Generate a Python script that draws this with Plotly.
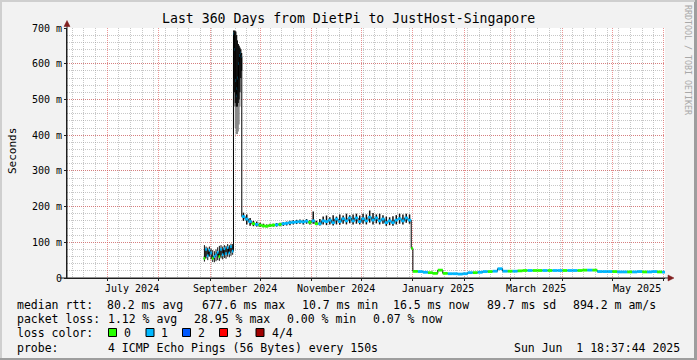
import pandas as pd
import plotly.graph_objects as go

# ---------------- data ----------------
END_TIME = "2025-06-01 18:37:44"
START_TIME = "2024-06-06 18:37:44"

# Segment A: late Aug - mid Sep 2024, daily samples (ms)
a_start = "2024-08-28"
a_lo  = [46, 55, 50, 60, 52, 45, 44, 47, 50, 48, 55, 52, 56, 54, 60, 58, 62, 65]
a_hi  = [92, 88, 85, 88, 82, 78, 75, 80, 86, 90, 92, 88, 92, 90, 95, 92, 96, 95]
a_med = [55, 80, 62, 78, 70, 55, 60, 65, 72, 60, 80, 65, 82, 68, 85, 70, 88, 75]
a_loss = [0, 1, 1, 1, 1, 0, 1, 1, 1, 0, 1, 1, 1, 1, 1, 1, 1, 1]

# Spike: 15-19 Sep 2024, half-day samples
s_start = "2024-09-15"
s_hi      = [693, 692, 690, 680, 665, 655, 650, 645, 640, 630]
s_lo      = [560, 520, 490, 480, 480, 490, 500, 520, 560, 580]
s_lo_gray = [560, 480, 420, 403, 403, 410, 430, 480, 560, 580]
s_med     = [684, 640, 553, 510, 530, 560, 600, 623, 630, 620]
s_loss    = [1, 1, 1, 1, 1, 1, 1, 1, 1, 1]

# Segment B: 20 Sep - 29 Dec 2024, 2-day samples
b_start = "2024-09-20"
b_lo  = [160, 150, 146, 145, 144, 143, 142, 142, 143, 144, 144, 145, 146, 147, 148,
         150, 151, 152, 150, 152, 150, 152, 148, 147, 150, 148, 150, 147, 150, 149,
         152, 150, 153, 150, 152, 150, 152, 150, 155, 150, 153, 150, 152, 146, 148,
         146, 150, 152, 150, 155, 152]
b_hi  = [183, 178, 168, 160, 158, 155, 152, 150, 152, 152, 154, 155, 156, 158, 160,
         162, 163, 164, 163, 165, 162, 186, 160, 165, 172, 175, 170, 176, 172, 178,
         175, 180, 176, 178, 180, 175, 180, 178, 189, 182, 178, 180, 176, 172, 170,
         173, 176, 180, 178, 180, 178]
b_med = [172, 165, 158, 152, 150, 148, 146, 145, 147, 148, 149, 150, 152, 153, 155,
         156, 157, 158, 157, 159, 156, 160, 152, 152, 160, 158, 162, 155, 165, 158,
         166, 160, 168, 160, 168, 158, 166, 160, 170, 162, 168, 160, 165, 155, 160,
         155, 162, 166, 160, 168, 162]
b_loss = [1, 1, 1, 0, 1, 0, 0, 0, 0, 0, 1, 0, 1, 1, 1,
          1, 1, 1, 1, 1, 0, 1, 0, 1, 1, 1, 1, 1, 1, 1,
          1, 1, 1, 1, 1, 1, 1, 1, 1, 1, 1, 1, 1, 1, 1,
          1, 1, 1, 1, 1, 1]

# Drop sample on 31 Dec 2024
d_date = ["2024-12-31"]
d_med = [83]
d_loss = [0]

# Segment C: Jan - May 2025, 3-day samples
c_start = "2025-01-01"
c_med = [18.5, 18, 16, 15, 13, 22, 13, 12, 12, 11, 12,
         15, 15, 16, 18, 18, 19, 26, 19, 19,
         19, 20, 21, 21, 21, 21, 21, 21, 21, 21,
         21, 21, 21, 21, 22, 22, 22, 18, 18, 18,
         18, 17, 17, 17, 17, 18, 17, 17, 18, 17, 16.5]
c_loss = [0, 1, 1, 0, 0, 0, 0, 1, 1, 1, 1,
          1, 0, 1, 1, 0, 1, 1, 1, 0,
          1, 0, 0, 1, 0, 0, 1, 0, 1, 1,
          0, 1, 1, 0, 0, 1, 0, 1, 1, 1,
          0, 1, 1, 0, 1, 1, 0, 1, 1, 0, 1]

# axis / legend texts
y_ticks = [0, 100, 200, 300, 400, 500, 600, 700]
y_ticktext = ["0", "100 m", "200 m", "300 m", "400 m", "500 m", "600 m", "700 m"]
month_labels = ["July 2024", "September 2024", "November 2024",
                "January 2025", "March 2025", "May 2025"]
month_label_dates = ["2024-07-16", "2024-09-16", "2024-11-16",
                     "2025-01-16", "2025-03-16", "2025-05-16"]
loss_names = ["0", "1", "2", "3", "4/4"]
loss_colors = ["#26ff00", "#00b8ff", "#0059ff", "#ff0000", "#a00000"]
rtt_stats = ["80.2 ms avg", "677.6 ms max", "10.7 ms min", "16.5 ms now",
             "89.7 ms sd", "894.2 m am/s"]
loss_stats = ["1.12 % avg", "28.95 % max", "0.00 % min", "0.07 % now"]
probe_text = "4 ICMP Echo Pings (56 Bytes) every 150s"
stamp_text = "Sun Jun  1 18:37:44 2025"
title_text = "Last 360 Days from DietPi to JustHost-Singapore"

# ---------------- build series ----------------
a_dates = list(pd.date_range(a_start, periods=len(a_med), freq="D"))
s_dates = list(pd.date_range(s_start, periods=len(s_med), freq="12h"))
b_dates = list(pd.date_range(b_start, periods=len(b_med), freq="2D"))
dd = [pd.Timestamp(d) for d in d_date]
c_dates = list(pd.date_range(c_start, periods=len(c_med), freq="3D"))

all_dates = a_dates + s_dates + b_dates + dd + c_dates
all_med = a_med + s_med + b_med + d_med + c_med
all_loss = a_loss + s_loss + b_loss + d_loss + c_loss
end_ts = pd.Timestamp(END_TIME)
nexts = all_dates[1:] + [end_ts]
# fraction of each sample interval covered by the coloured median dash
frac = ([1.0] * len(a_med) + [0.3] * len(s_med) + [1.0] * len(b_med)
        + [1.0] * len(d_med) + [1.0] * len(c_med))
ends = [d + (n - d) * f for d, n, f in zip(all_dates, nexts, frac)]

# plot area in pixels
W, H = 697, 360
L, R, T, B = 67, 665, 28, 278


def px(x):
    return (x - L) / (R - L)


def py(y):
    return (B - y) / (B - T)


fig = go.Figure()


def smoke(dates, lo, hi, color, width):
    xs, ys = [], []
    for d, l, h in zip(dates, lo, hi):
        xs += [d, d, None]
        ys += [l, h, None]
    fig.add_trace(go.Scatter(x=xs, y=ys, mode="lines",
                             line=dict(color=color, width=width),
                             hoverinfo="skip", showlegend=False))


half_day = pd.Timedelta(hours=12)
smoke([d + half_day for d in a_dates], a_lo, a_hi, "#111111", 1.0)
smoke([d + pd.Timedelta(hours=6) for d in s_dates], s_lo_gray, s_hi, "#8a8a8a", 1.6)
smoke([d + pd.Timedelta(hours=6) for d in s_dates], s_lo, s_hi, "#111111", 1.6)
smoke([d + pd.Timedelta(days=1) for d in b_dates], b_lo, b_hi, "#111111", 1.5)

# black median connector
fig.add_trace(go.Scatter(x=all_dates + [end_ts], y=all_med + [all_med[-1]],
                         mode="lines", line=dict(color="#000000", width=1, shape="hv"),
                         hoverinfo="skip", showlegend=False))

# coloured median by loss
for k, col in enumerate(loss_colors):
    xs, ys = [], []
    for d, e, m, lo in zip(all_dates, ends, all_med, all_loss):
        if lo == k:
            xs += [d, e, None]
            ys += [m, m, None]
    if xs:
        fig.add_trace(go.Scatter(x=xs, y=ys, mode="lines",
                                 line=dict(color=col, width=2.8),
                                 hoverinfo="skip", showlegend=False))

FONT = "DejaVu Sans Mono"
GRID = "rgba(143,143,143,0.5)"
MGRID = "rgba(222,79,79,0.6)"
AXIS = "#1f1f1f"
ARROW = "#801f1f"

fig.update_layout(
    width=W, height=H,
    margin=dict(l=L, r=W - R, t=T, b=H - B, pad=0),
    paper_bgcolor="#f2f2f2", plot_bgcolor="#ffffff",
    showlegend=False,
    xaxis=dict(type="date", range=[START_TIME, END_TIME],
               showgrid=True, gridcolor=MGRID, griddash="1px,1px", gridwidth=1,
               dtick="M1", tick0="2024-06-01",
               showticklabels=False, ticks="outside", ticklen=2, tickcolor=AXIS,
               showline=True, linecolor=AXIS, linewidth=1, zeroline=False,
               minor=dict(dtick=7 * 86400000, tick0="2024-06-10", showgrid=True,
                          gridcolor=GRID, griddash="1px,1px", gridwidth=1)),
    yaxis=dict(range=[0, 700], tickvals=y_ticks, ticktext=y_ticktext,
               showgrid=True, gridcolor=MGRID, griddash="1px,1px", gridwidth=1,
               ticks="outside", ticklen=2, tickcolor=AXIS,
               tickfont=dict(family=FONT, size=10, color="#000"),
               showline=True, linecolor=AXIS, linewidth=1, zeroline=False,
               minor=dict(dtick=20, showgrid=True, gridcolor=GRID,
                          griddash="1px,1px", gridwidth=1)),
)

ann = []


def text(x, y, s, size=11.5, anchor="left", color="#000000", angle=0, xref="paper"):
    ann.append(dict(xref=xref, yref="paper", x=x if xref != "paper" else px(x),
                    y=py(y), text=s.replace(" ", "\u00a0"), showarrow=False,
                    xanchor=anchor, yanchor="middle", borderpad=0, textangle=angle,
                    font=dict(family=FONT, size=size, color=color)))


# title, axis title, watermark
text(348.5, 19, title_text, size=13.2, anchor="center")
text(12, 151, "Seconds", size=11, anchor="center", angle=-90)
text(688, 60, "RRDTOOL / TOBI OETIKER", size=8.3, anchor="center",
     color="#a8a8a8", angle=90)

# month labels
for d, lab in zip(month_label_dates, month_labels):
    text(d, 288, lab, size=10, anchor="center", xref="x")

# legend lines
y1, y2, y3, y4 = 305, 319.2, 333.2, 348
text(15.5, y1, "median rtt:")
for xpos, s in zip([106.2, 200.8, 300.5, 391.8, 485.5, 572.2], rtt_stats):
    text(xpos, y1, s)
text(15.5, y2, "packet loss:")
for xpos, s in zip([106.5, 192.8, 286.2, 372.2], loss_stats):
    text(xpos, y2, s)
text(15.5, y3, "loss color:")
box_x = [108.5, 146, 182.5, 219.5, 256]
lab_x = [122.8, 160.2, 197.2, 234.2, 270.5]
shapes = []
for bx, lx, col, nm in zip(box_x, lab_x, loss_colors, loss_names):
    shapes.append(dict(type="rect", xref="paper", yref="paper",
                       x0=px(bx), x1=px(bx + 8), y0=py(336.5), y1=py(328.5),
                       fillcolor=col, line=dict(color="#000000", width=1)))
    text(lx, y3, nm)
text(15.5, y4, "probe:")
text(106.8, y4, probe_text)
text(680.5, y4, stamp_text, anchor="right")

# axis extensions and arrows
shapes.append(dict(type="line", xref="paper", yref="paper",
                   x0=px(67), x1=px(67), y0=py(278), y1=py(24),
                   line=dict(color=AXIS, width=1)))
shapes.append(dict(type="line", xref="paper", yref="paper",
                   x0=px(60), x1=px(671), y0=py(278), y1=py(278),
                   line=dict(color=AXIS, width=1)))
shapes.append(dict(type="path", xref="paper", yref="paper",
                   path=f"M {px(67)} {py(20.5)} L {px(64)} {py(26.5)} L {px(70)} {py(26.5)} Z",
                   fillcolor=ARROW, line=dict(color=ARROW, width=0.5)))
shapes.append(dict(type="path", xref="paper", yref="paper",
                   path=f"M {px(674)} {py(278)} L {px(668)} {py(275)} L {px(668)} {py(281)} Z",
                   fillcolor=ARROW, line=dict(color=ARROW, width=0.5)))

# image frame (rrdtool shade)
shapes.append(dict(type="rect", xref="paper", yref="paper", x0=px(0), x1=px(697),
                   y0=py(360), y1=py(358), fillcolor="#9e9e9e", line=dict(width=0)))
shapes.append(dict(type="rect", xref="paper", yref="paper", x0=px(694), x1=px(697),
                   y0=py(360), y1=py(0), fillcolor="#9e9e9e", line=dict(width=0)))
shapes.append(dict(type="rect", xref="paper", yref="paper", x0=px(0), x1=px(695),
                   y0=py(2), y1=py(0), fillcolor="#cfcfcf", line=dict(width=0)))
shapes.append(dict(type="rect", xref="paper", yref="paper", x0=px(0), x1=px(2),
                   y0=py(358), y1=py(0), fillcolor="#cfcfcf", line=dict(width=0)))

fig.update_layout(annotations=ann, shapes=shapes)
fig.write_html("out.html",
               config={"displayModeBar": False, "staticPlot": True},
               post_script="document.body.style.margin='0';"
                           "document.body.style.overflow='hidden';")
